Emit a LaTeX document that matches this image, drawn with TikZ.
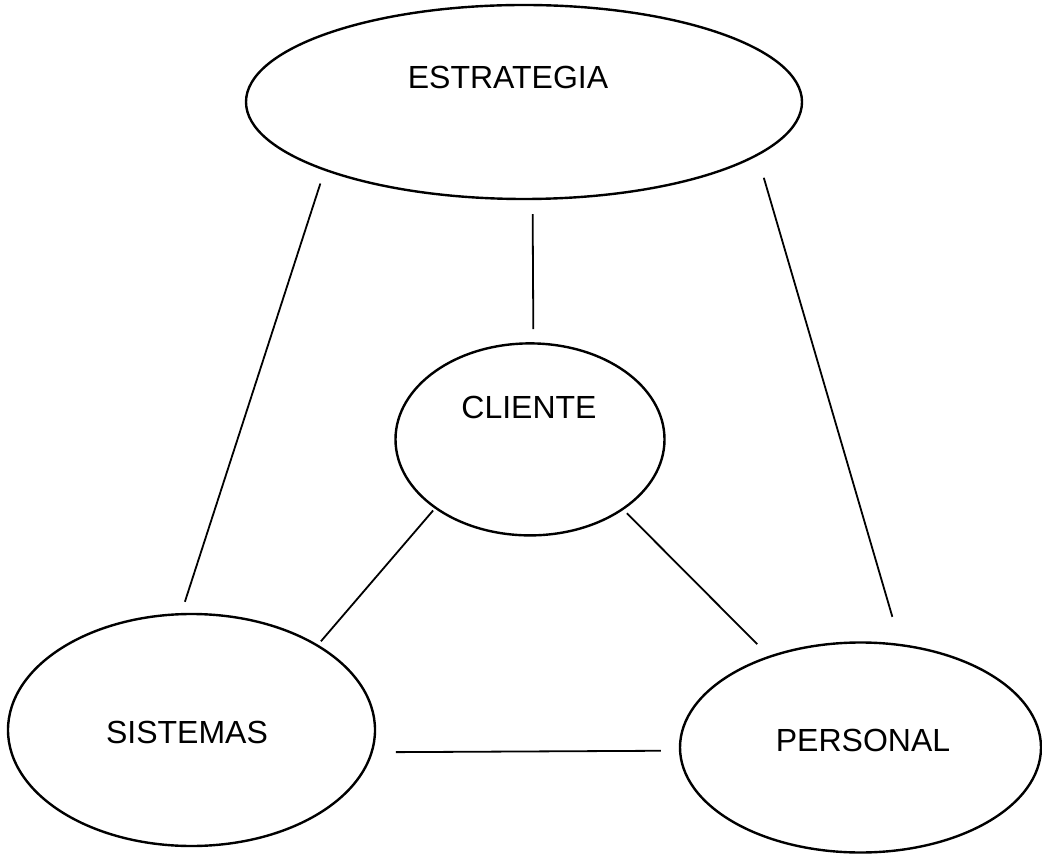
\documentclass[tikz,border=0pt]{standalone}
\usepackage{fontspec}
\setmainfont{Liberation Sans}
\usetikzlibrary{positioning,shapes.geometric}

\begin{document}
\begin{tikzpicture}[
x=0.5pt,y=-0.5pt,
area/.style={draw,ellipse,line width=1.2pt,inner sep=0pt},
tag/.style={font=\fontsize{16}{19}\selectfont},
link/.style={line width=0.9pt}
]
\useasboundingbox (0,0) rectangle (1042,854);
\node[area,minimum width=278pt,minimum height=97pt,label={[tag,xshift=-8pt,yshift=12.5pt]center:ESTRATEGIA}] (est) at (524,102) {};
\node[area,below=71pt of est,xshift=3pt,minimum width=134.5pt,minimum height=96pt,label={[tag,xshift=-0.5pt,yshift=16pt]center:CLIENTE}] (cli) {};
\node[area,minimum width=183.5pt,minimum height=116pt,label={[tag,xshift=-2.25pt,yshift=-1pt]center:SISTEMAS}] (sis) at (191.5,730) {};
\node[area,minimum width=180.5pt,minimum height=105pt,label={[tag,xshift=1.25pt,yshift=3.75pt]center:PERSONAL}] (per) at (860.5,747.5) {};
\draw[link,shorten <=6.75pt,shorten >=5.9pt] (est.199) -- (sis.95.5);
\draw[link,shorten <=7pt,shorten >=6.5pt] (est.275.3) -- (cli.88.2);
\draw[link,shorten <=11.4pt,shorten >=14.1pt] (est.347.1) -- (per.69);
\draw[link,shorten <=1.25pt,shorten >=2.2pt] (cli.216.5) -- (sis.34.7);
\draw[link,shorten <=2.4pt,shorten >=8.25pt] (cli.323.1) -- (per.135.1);
\draw[link,shorten <=11.5pt,shorten >=9pt] (sis.353.4) -- (per.181.1);
\end{tikzpicture}
\end{document}
